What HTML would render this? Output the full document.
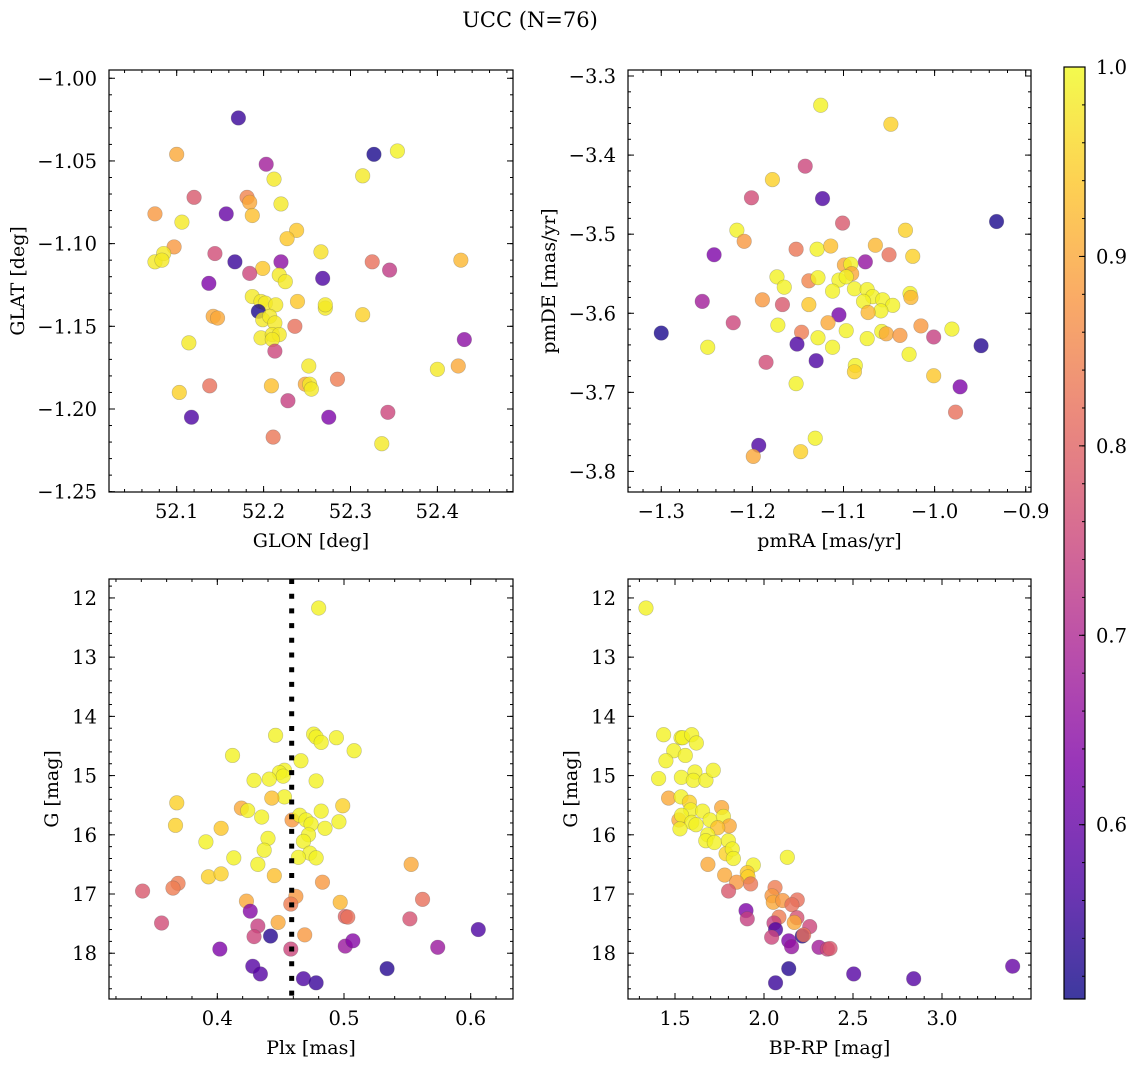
<!DOCTYPE html>
<html><head><meta charset="utf-8"><style>
html,body{margin:0;padding:0;background:#fff;}
svg{display:block;font-family:"DejaVu Serif","Liberation Serif",serif;}
</style></head><body>
<svg id="fig" width="1136" height="1067" viewBox="0 0 1136 1067" xmlns="http://www.w3.org/2000/svg">
<text x="530" y="27" font-size="21" text-anchor="middle">UCC (N=76)</text>
</svg>
<script>
// ---- Panel 1 data: GLON / GLAT / membership prob ----
const p1x=[52.171,52.100,52.327,52.354,52.203,52.212,52.314,52.120,52.181,52.184,52.220,52.075,52.157,52.187,52.106,52.238,52.227,52.097,52.266,52.075,52.085,52.083,52.144,52.167,52.220,52.199,52.325,52.345,52.427,52.184,52.218,52.225,52.268,52.137,52.187,52.197,52.202,52.214,52.239,52.271,52.271,52.142,52.147,52.194,52.199,52.207,52.213,52.314,52.236,52.197,52.210,52.218,52.210,52.431,52.213,52.114,52.252,52.400,52.424,52.103,52.138,52.209,52.248,52.253,52.255,52.285,52.228,52.117,52.275,52.343,52.211,52.336];
const p1y=[-1.024,-1.046,-1.046,-1.044,-1.052,-1.061,-1.059,-1.072,-1.072,-1.075,-1.076,-1.082,-1.082,-1.083,-1.087,-1.092,-1.097,-1.102,-1.105,-1.111,-1.106,-1.110,-1.106,-1.111,-1.111,-1.115,-1.111,-1.116,-1.110,-1.118,-1.119,-1.123,-1.121,-1.124,-1.132,-1.135,-1.136,-1.137,-1.135,-1.139,-1.137,-1.144,-1.145,-1.141,-1.146,-1.144,-1.148,-1.143,-1.150,-1.157,-1.155,-1.155,-1.158,-1.158,-1.165,-1.160,-1.174,-1.176,-1.174,-1.190,-1.186,-1.186,-1.185,-1.185,-1.188,-1.182,-1.195,-1.205,-1.205,-1.202,-1.217,-1.221];
const p1c=[0.55,0.90,0.52,0.99,0.68,0.98,0.98,0.78,0.85,0.90,0.98,0.88,0.60,0.93,0.98,0.94,0.94,0.88,0.97,0.98,0.98,0.98,0.76,0.55,0.65,0.94,0.82,0.73,0.92,0.75,0.98,0.98,0.57,0.63,0.98,0.98,0.98,0.98,0.94,0.98,0.98,0.90,0.90,0.52,0.98,0.98,0.98,0.95,0.82,0.98,0.98,0.98,0.98,0.65,0.75,0.98,0.98,0.98,0.90,0.95,0.82,0.93,0.90,0.98,0.98,0.84,0.74,0.57,0.63,0.75,0.83,0.98];
// ---- Panel 2 data: pmRA / pmDE ----
const p2x=[-1.125,-1.048,-1.142,-1.178,-1.201,-1.123,-1.101,-0.932,-1.217,-1.209,-1.032,-1.242,-1.152,-1.129,-1.114,-1.065,-1.050,-1.024,-1.076,-1.099,-1.092,-1.091,-1.173,-1.165,-1.138,-1.128,-1.105,-1.097,-1.112,-1.088,-1.074,-1.068,-1.057,-1.078,-1.189,-1.255,-1.167,-1.138,-1.027,-1.026,-1.046,-1.059,-1.073,-1.105,-1.221,-1.117,-1.172,-1.146,-1.097,-1.058,-1.053,-1.038,-1.015,-0.981,-1.001,-1.300,-1.128,-1.151,-1.112,-1.074,-1.249,-0.949,-1.028,-1.130,-1.185,-1.087,-1.088,-1.001,-1.152,-0.972,-0.977,-1.131,-1.193,-1.199,-1.147];
const p2y=[-3.337,-3.361,-3.414,-3.431,-3.454,-3.455,-3.486,-3.484,-3.495,-3.509,-3.495,-3.526,-3.519,-3.519,-3.515,-3.514,-3.526,-3.528,-3.535,-3.539,-3.538,-3.550,-3.554,-3.567,-3.559,-3.555,-3.558,-3.554,-3.572,-3.569,-3.570,-3.579,-3.583,-3.585,-3.583,-3.585,-3.589,-3.589,-3.575,-3.580,-3.590,-3.597,-3.599,-3.602,-3.612,-3.612,-3.615,-3.624,-3.622,-3.623,-3.626,-3.628,-3.616,-3.620,-3.630,-3.625,-3.631,-3.639,-3.643,-3.632,-3.643,-3.641,-3.652,-3.660,-3.662,-3.666,-3.674,-3.679,-3.689,-3.693,-3.725,-3.758,-3.767,-3.781,-3.775];
const p2c=[0.99,0.95,0.75,0.95,0.76,0.57,0.78,0.52,0.99,0.88,0.95,0.63,0.83,0.99,0.93,0.92,0.82,0.95,0.66,0.90,0.99,0.90,0.99,0.99,0.85,0.99,0.99,0.99,0.99,0.99,0.99,0.99,0.99,0.99,0.88,0.68,0.78,0.94,0.99,0.92,0.99,0.99,0.92,0.62,0.75,0.90,0.99,0.84,0.99,0.99,0.90,0.88,0.88,0.99,0.74,0.52,0.99,0.57,0.99,0.99,0.99,0.53,0.99,0.57,0.76,0.99,0.95,0.94,0.99,0.63,0.82,0.99,0.57,0.90,0.95];
// ---- Panel 3 data: Plx / G ----
const p3x=[0.480,0.446,0.476,0.478,0.482,0.494,0.508,0.412,0.466,0.453,0.449,0.452,0.429,0.441,0.478,0.453,0.443,0.368,0.419,0.424,0.499,0.482,0.435,0.459,0.465,0.470,0.474,0.496,0.485,0.367,0.403,0.472,0.440,0.468,0.391,0.437,0.473,0.464,0.478,0.413,0.432,0.553,0.393,0.403,0.445,0.483,0.369,0.365,0.341,0.462,0.458,0.423,0.497,0.562,0.501,0.503,0.552,0.426,0.356,0.448,0.432,0.429,0.442,0.469,0.606,0.402,0.458,0.501,0.507,0.574,0.428,0.434,0.534,0.468,0.478];
const p3y=[12.17,14.32,14.30,14.35,14.44,14.36,14.58,14.66,14.75,14.91,14.95,15.01,15.08,15.06,15.09,15.36,15.38,15.46,15.55,15.59,15.51,15.60,15.70,15.75,15.67,15.75,15.82,15.78,15.89,15.84,15.89,16.00,16.06,16.11,16.12,16.26,16.31,16.38,16.39,16.39,16.50,16.50,16.71,16.66,16.69,16.80,16.82,16.90,16.95,17.04,17.17,17.12,17.14,17.09,17.38,17.39,17.42,17.29,17.49,17.48,17.54,17.72,17.71,17.69,17.60,17.93,17.93,17.88,17.79,17.90,18.22,18.35,18.26,18.43,18.50];
const p3c=[0.99,0.99,0.99,0.99,0.99,0.99,0.99,0.99,0.99,0.99,0.99,0.99,0.99,0.99,0.99,0.99,0.93,0.95,0.90,0.99,0.95,0.99,0.99,0.88,0.99,0.99,0.99,0.99,0.99,0.95,0.94,0.99,0.99,0.99,0.99,0.99,0.99,0.99,0.99,0.99,0.99,0.90,0.95,0.95,0.93,0.88,0.84,0.84,0.78,0.88,0.84,0.90,0.92,0.82,0.80,0.82,0.77,0.64,0.76,0.90,0.74,0.75,0.53,0.88,0.57,0.63,0.75,0.67,0.64,0.67,0.58,0.58,0.53,0.57,0.55];
const plxMean=[0.4587];
// ---- Panel 4 data: BP-RP / G ----
const p4x=[1.337,1.436,1.534,1.543,1.594,1.620,1.493,1.449,1.558,1.408,1.536,1.612,1.603,1.674,1.715,1.464,1.534,1.581,1.588,1.655,1.697,1.762,1.772,1.805,1.740,1.522,1.537,1.594,1.618,1.528,1.684,1.673,1.721,1.800,1.787,1.822,1.828,2.131,1.685,1.940,1.906,1.910,1.779,1.846,1.925,1.801,2.062,2.045,2.052,2.105,2.187,2.157,2.084,2.185,2.170,1.899,1.906,2.056,2.065,2.257,2.043,2.215,2.223,2.139,2.155,2.309,2.356,2.371,2.139,2.065,2.504,2.841,3.397];
const p4y=[12.17,14.31,14.36,14.36,14.31,14.45,14.58,14.75,14.66,15.05,15.03,14.94,15.08,15.08,14.91,15.38,15.36,15.45,15.58,15.60,15.75,15.54,15.69,15.85,15.88,15.75,15.67,15.79,15.83,15.90,16.00,16.10,16.13,16.10,16.32,16.24,16.40,16.38,16.50,16.51,16.64,16.71,16.68,16.80,16.83,16.95,16.89,17.03,17.14,17.11,17.10,17.18,17.39,17.40,17.48,17.28,17.42,17.49,17.60,17.55,17.73,17.71,17.69,17.79,17.89,17.90,17.93,17.92,18.26,18.50,18.35,18.43,18.22];
const p4c=[0.99,0.99,0.99,0.99,0.99,0.99,0.99,0.99,0.99,0.99,0.99,0.99,0.99,0.99,0.99,0.90,0.99,0.95,0.99,0.99,0.99,0.90,0.99,0.90,0.93,0.90,0.99,0.99,0.99,0.99,0.99,0.99,0.99,0.99,0.95,0.99,0.99,0.99,0.90,0.99,0.94,0.95,0.90,0.88,0.83,0.78,0.84,0.88,0.90,0.88,0.82,0.82,0.84,0.77,0.90,0.63,0.74,0.74,0.57,0.75,0.75,0.53,0.82,0.63,0.66,0.68,0.75,0.78,0.53,0.55,0.58,0.58,0.60];
// ---- colorbar ----
const cbTicks=["0.6","0.7","0.8","0.9","1.0"];
const cMin=0.508, cMax=1.0;

const NS="http://www.w3.org/2000/svg";
const svg=document.getElementById('fig');
const TICK_FS=19.5, LAB_FS=19;
function mk(tag,attrs,parent){const e=document.createElementNS(NS,tag);for(const k in attrs)e.setAttribute(k,attrs[k]);(parent||svg).appendChild(e);return e;}
const stops=[[0,[13,8,135]],[0.125,[76,2,161]],[0.25,[126,3,168]],[0.375,[169,35,149]],[0.5,[204,71,120]],[0.625,[230,108,92]],[0.75,[248,149,64]],[0.875,[253,197,39]],[1,[240,249,33]]];
function plasma(t){t=Math.max(0,Math.min(1,t));for(let i=1;i<stops.length;i++){if(t<=stops[i][0]){const a=stops[i-1],b=stops[i];const f=(t-a[0])/(b[0]-a[0]);const c=a[1].map((v,j)=>Math.round(v+(b[1][j]-v)*f));return `rgb(${c[0]},${c[1]},${c[2]})`;}}return 'rgb(240,249,33)';}
function cnorm(c){return (c-cMin)/(cMax-cMin);}

function panel(cfg){
  const g=mk('g',{});
  
  
  const {x0,y0,w,h,xmin,xmax,ymin,ymax,invert}=cfg;
  const sx=v=>x0+(v-xmin)/(xmax-xmin)*w;
  const sy=invert?(v=>y0+(v-ymin)/(ymax-ymin)*h):(v=>y0+h-(v-ymin)/(ymax-ymin)*h);
  const tg=mk('g',{stroke:'#000','stroke-width':1},g);
  for(let v=cfg.xminor[0];v<=xmax+1e-9;v+=cfg.xminor[1]){const X=sx(v);if(X<x0||X>x0+w)continue;mk('line',{x1:X,x2:X,y1:y0+h,y2:y0+h-3},tg);mk('line',{x1:X,x2:X,y1:y0,y2:y0+3},tg);}
  for(let v=cfg.yminor[0];v<=Math.max(ymin,ymax)+1e-9;v+=cfg.yminor[1]){const Y=sy(v);if(Y<y0||Y>y0+h)continue;mk('line',{x1:x0,x2:x0+3,y1:Y,y2:Y},tg);mk('line',{x1:x0+w,x2:x0+w-3,y1:Y,y2:Y},tg);}
  cfg.xt.forEach(v=>{const X=sx(v);mk('line',{x1:X,x2:X,y1:y0+h,y2:y0+h-6},tg);mk('line',{x1:X,x2:X,y1:y0,y2:y0+6},tg);
    const t=mk('text',{x:X,y:y0+h+26,'font-size':TICK_FS,'text-anchor':'middle'},g);t.textContent=cfg.xfmt(v);
    });
  cfg.yt.forEach(v=>{const Y=sy(v);mk('line',{x1:x0,x2:x0+6,y1:Y,y2:Y},tg);mk('line',{x1:x0+w,x2:x0+w-6,y1:Y,y2:Y},tg);
    const t=mk('text',{x:x0-12,y:Y+7,'font-size':TICK_FS,'text-anchor':'end'},g);t.textContent=cfg.yfmt(v);
    });
  const pg=mk('g',{},g);
  
  
  cfg.xs.forEach((v,i)=>{const c=mk('circle',{cx:sx(v),cy:sy(cfg.ys[i]),r:7.3,fill:plasma(cnorm(cfg.cs[i])),'fill-opacity':0.8,stroke:'#555','stroke-opacity':0.35,'stroke-width':0.6},pg);
    
    });
  if(cfg.vline){cfg.vline.forEach(v=>{const l=mk('line',{x1:sx(v),x2:sx(v),y1:y0,y2:y0+h,stroke:'#000','stroke-width':5,'stroke-dasharray':'5 9.7'},g);
    });}
  const fr=mk('rect',{x:x0,y:y0,width:w,height:h,fill:'none',stroke:'#000','stroke-width':1.2},g);
  
  const xl=mk('text',{x:x0+w/2,y:y0+h+55,'font-size':LAB_FS,'text-anchor':'middle'},g);xl.textContent=cfg.xlabel;
  
  const yx=cfg.ylx, yy=y0+h/2;
  const yl=mk('text',{x:yx,y:yy,'font-size':LAB_FS,'text-anchor':'middle',transform:`rotate(-90 ${yx} ${yy})`},g);yl.textContent=cfg.ylabel;
  
}
const f2=v=>(v<0?'\u2212':'')+Math.abs(v).toFixed(2);
const f1=v=>(v<0?'\u2212':'')+Math.abs(v).toFixed(1);
const f0=v=>v.toFixed(0);
panel({name:'glon-glat-panel',x0:109,y0:70,w:404,h:422,xmin:52.0221,xmax:52.487,ymin:-1.2502,ymax:-0.995,
  xt:[52.1,52.2,52.3,52.4],yt:[-1.25,-1.2,-1.15,-1.1,-1.05,-1.0],xminor:[52.04,0.02],yminor:[-1.25,0.01],
  xfmt:v=>v.toFixed(1),yfmt:f2,xs:p1x,ys:p1y,cs:p1c,xlabel:'GLON [deg]',ylabel:'GLAT [deg]',ylx:24});
panel({name:'pm-panel',x0:628,y0:70,w:403,h:422,xmin:-1.3365,xmax:-0.8942,ymin:-3.826,ymax:-3.2924,
  xt:[-1.3,-1.2,-1.1,-1.0,-0.9],yt:[-3.8,-3.7,-3.6,-3.5,-3.4,-3.3],xminor:[-1.32,0.02],yminor:[-3.82,0.02],
  xfmt:f1,yfmt:f1,xs:p2x,ys:p2y,cs:p2c,xlabel:'pmRA [mas/yr]',ylabel:'pmDE [mas/yr]',ylx:555});
panel({name:'plx-g-panel',x0:109,y0:579,w:404,h:420,xmin:0.3145,xmax:0.6334,ymin:11.68,ymax:18.773,invert:true,
  xt:[0.4,0.5,0.6],yt:[12,13,14,15,16,17,18],xminor:[0.32,0.02],yminor:[11.8,0.2],
  xfmt:f1,yfmt:f0,xs:p3x,ys:p3y,cs:p3c,xlabel:'Plx [mas]',ylabel:'G [mag]',ylx:58,vline:plxMean});
panel({name:'cmd-panel',x0:628,y0:579,w:403,h:420,xmin:1.236,xmax:3.5,ymin:11.68,ymax:18.773,invert:true,
  xt:[1.5,2.0,2.5,3.0],yt:[12,13,14,15,16,17,18],xminor:[1.3,0.1],yminor:[11.8,0.2],
  xfmt:f1,yfmt:f0,xs:p4x,ys:p4y,cs:p4c,xlabel:'BP-RP [mag]',ylabel:'G [mag]',ylx:577});

(function(){
  const x0=1064,y0=67,w=21,h=932;
  const g=mk('g',{});
  
  
  const defs=mk('defs',{},g);
  const lg=mk('linearGradient',{id:'cbg',x1:0,y1:1,x2:0,y2:0},defs);
  for(let i=0;i<=16;i++){const t=i/16;mk('stop',{offset:t,'stop-color':plasma(t)},lg);}
  mk('rect',{x:x0,y:y0,width:w,height:h,fill:'url(#cbg)','fill-opacity':0.8},g);
  mk('rect',{x:x0,y:y0,width:w,height:h,fill:'none',stroke:'#000','stroke-width':1.2},g);
  const sy=v=>y0+h-(v-cMin)/(cMax-cMin)*h;
  for(let v=0.52;v<=1.0001;v+=0.02){const Y=sy(v);mk('line',{x1:x0+w,x2:x0+w-3,y1:Y,y2:Y,stroke:'#000'},g);}
  cbTicks.forEach(s=>{const Y=sy(parseFloat(s));mk('line',{x1:x0+w,x2:x0+w-6,y1:Y,y2:Y,stroke:'#000'},g);
    const t=mk('text',{x:x0+w+11,y:Y+7,'font-size':TICK_FS},g);t.textContent=s;
    });
})();
</script>
</body></html>
